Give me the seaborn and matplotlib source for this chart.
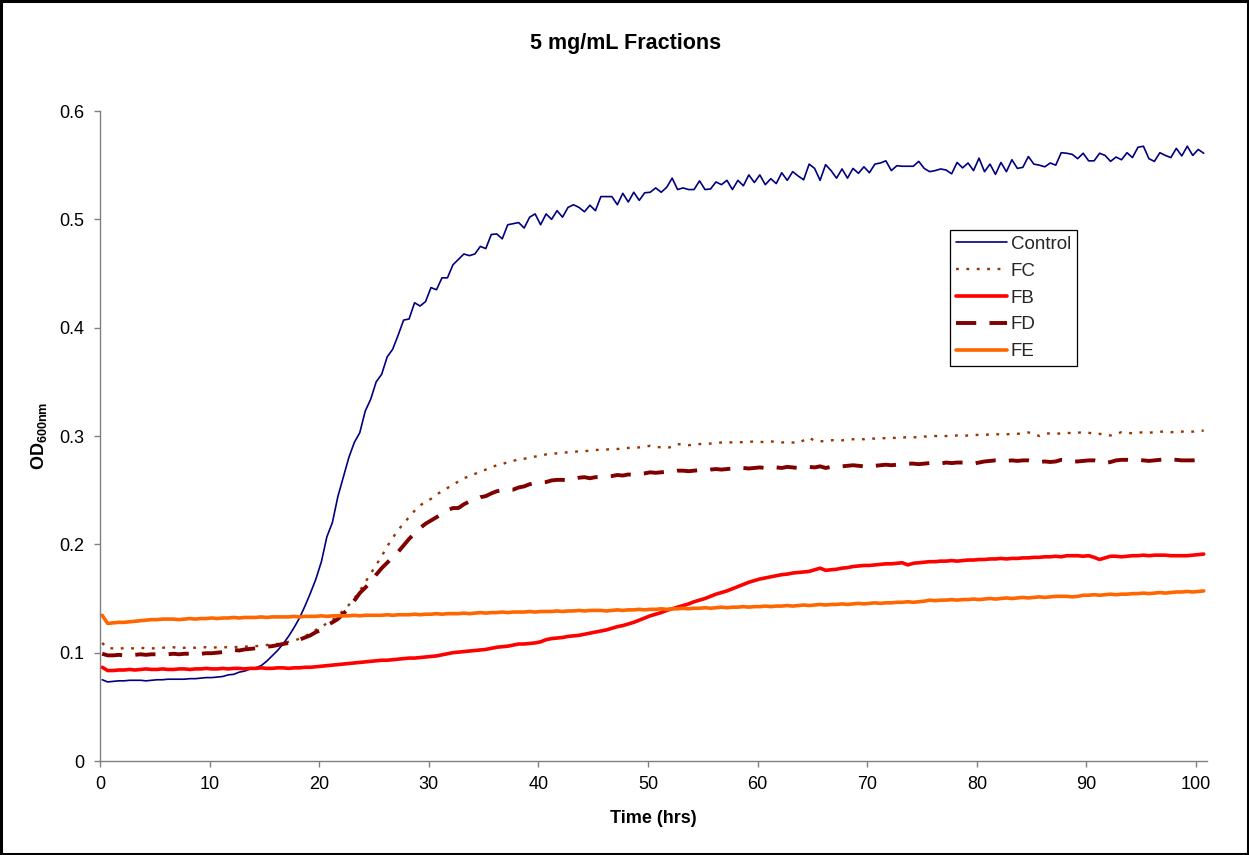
import numpy as np
import pandas as pd
import matplotlib
matplotlib.use("Agg")
import matplotlib.pyplot as plt
from matplotlib.patches import Rectangle
import seaborn as sns

# ---------------- data ----------------
TIME_START = 0.2
TIME_STEP = 0.5
N_POINTS = 202

CONTROL = [
    0.075, 0.073, 0.0735, 0.074, 0.074, 0.0745, 0.0745, 0.0745, 0.074, 0.0745,
    0.075, 0.075, 0.0755, 0.0755, 0.0755, 0.0755, 0.076, 0.076, 0.0765, 0.077,
    0.077, 0.0775, 0.078, 0.0795, 0.080, 0.082, 0.083, 0.085, 0.086, 0.088,
    0.092, 0.097, 0.102, 0.108, 0.115, 0.123, 0.132, 0.143, 0.155, 0.168,
    0.184, 0.207, 0.220, 0.244, 0.262, 0.280, 0.294, 0.303, 0.323, 0.334,
    0.350, 0.357, 0.373, 0.380, 0.393, 0.407, 0.408, 0.423, 0.420, 0.424,
    0.437, 0.435, 0.446, 0.446, 0.458, 0.463, 0.468, 0.4665, 0.468, 0.475,
    0.473, 0.486, 0.4865, 0.482, 0.495, 0.496, 0.497, 0.492, 0.502, 0.505,
    0.495, 0.505, 0.500, 0.508, 0.502, 0.511, 0.5135, 0.511, 0.507, 0.513,
    0.508, 0.521, 0.521, 0.521, 0.5135, 0.524, 0.516, 0.525, 0.5175, 0.5245,
    0.525, 0.529, 0.525, 0.5295, 0.538, 0.5275, 0.529, 0.5275, 0.5275, 0.5355,
    0.5275, 0.528, 0.5345, 0.532, 0.536, 0.5275, 0.536, 0.531, 0.541, 0.534,
    0.541, 0.532, 0.5375, 0.533, 0.543, 0.536, 0.544, 0.540, 0.5365, 0.551,
    0.547, 0.536, 0.5505, 0.545, 0.538, 0.5465, 0.538, 0.547, 0.5425, 0.5485,
    0.543, 0.551, 0.552, 0.554, 0.545, 0.5495, 0.549, 0.549, 0.549, 0.5535,
    0.547, 0.544, 0.545, 0.5465, 0.5455, 0.542, 0.5525, 0.5475, 0.552, 0.545,
    0.5565, 0.544, 0.551, 0.5415, 0.5525, 0.544, 0.555, 0.547, 0.548, 0.558,
    0.551, 0.550, 0.5485, 0.552, 0.550, 0.5615, 0.561, 0.560, 0.556, 0.561,
    0.554, 0.554, 0.561, 0.559, 0.5535, 0.5575, 0.555, 0.5615, 0.557, 0.5665,
    0.5675, 0.556, 0.5535, 0.5615, 0.559, 0.557, 0.5655, 0.5585, 0.5675, 0.559,
    0.5645, 0.561,
]

FC = [
    0.109, 0.104, 0.104, 0.104, 0.104, 0.104, 0.104, 0.1045, 0.104, 0.104,
    0.104, 0.1045, 0.105, 0.105, 0.104, 0.1045, 0.105, 0.1045, 0.105, 0.105,
    0.1045, 0.105, 0.105, 0.105, 0.105, 0.1055, 0.1055, 0.106, 0.106, 0.1065,
    0.107, 0.108, 0.108, 0.109, 0.110, 0.111, 0.113, 0.115, 0.118, 0.121,
    0.124, 0.127, 0.130, 0.134, 0.139, 0.144, 0.150, 0.157, 0.165, 0.173,
    0.181, 0.189, 0.198, 0.206, 0.213, 0.2195, 0.225, 0.231, 0.236, 0.239,
    0.242, 0.246, 0.249, 0.252, 0.255, 0.258, 0.261, 0.263, 0.265, 0.267,
    0.269, 0.271, 0.273, 0.274, 0.276, 0.277, 0.2785, 0.279, 0.280, 0.281,
    0.282, 0.283, 0.2835, 0.284, 0.2845, 0.285, 0.2855, 0.2857, 0.286, 0.2865,
    0.287, 0.2875, 0.2875, 0.288, 0.288, 0.2885, 0.289, 0.289, 0.2895, 0.290,
    0.291, 0.290, 0.2895, 0.289, 0.290, 0.2925, 0.292, 0.2915, 0.292, 0.2925,
    0.293, 0.293, 0.2935, 0.294, 0.2945, 0.294, 0.294, 0.2945, 0.2945, 0.295,
    0.2945, 0.2945, 0.295, 0.2945, 0.294, 0.2945, 0.294, 0.2935, 0.296, 0.2985,
    0.2955, 0.295, 0.2955, 0.296, 0.2965, 0.296, 0.2965, 0.297, 0.297, 0.297,
    0.298, 0.2975, 0.298, 0.298, 0.2985, 0.298, 0.2985, 0.299, 0.299, 0.2985,
    0.2995, 0.2995, 0.300, 0.2995, 0.300, 0.300, 0.3005, 0.300, 0.3005, 0.301,
    0.301, 0.301, 0.3015, 0.302, 0.301, 0.3015, 0.302, 0.302, 0.3025, 0.3033,
    0.302, 0.300, 0.302, 0.3025, 0.302, 0.3025, 0.303, 0.3025, 0.303, 0.3035,
    0.303, 0.302, 0.302, 0.301, 0.3005, 0.302, 0.3035, 0.303, 0.3025, 0.303,
    0.3035, 0.303, 0.3035, 0.304, 0.304, 0.3035, 0.304, 0.304, 0.3045, 0.304,
    0.3045, 0.305,
]

FB = [
    0.0865, 0.0835, 0.0835, 0.084, 0.084, 0.0845, 0.084, 0.0845, 0.085, 0.0845,
    0.0845, 0.085, 0.0845, 0.0845, 0.085, 0.085, 0.0845, 0.085, 0.085, 0.0855,
    0.085, 0.085, 0.0855, 0.085, 0.0855, 0.0855, 0.085, 0.0855, 0.0855, 0.086,
    0.0855, 0.0855, 0.086, 0.086, 0.0855, 0.086, 0.086, 0.0865, 0.0865, 0.087,
    0.0875, 0.088, 0.0885, 0.089, 0.0895, 0.090, 0.0905, 0.091, 0.0915, 0.092,
    0.0925, 0.093, 0.093, 0.0935, 0.094, 0.0945, 0.095, 0.095, 0.0955, 0.096,
    0.0965, 0.097, 0.098, 0.099, 0.100, 0.1005, 0.101, 0.1015, 0.102, 0.1025,
    0.103, 0.104, 0.105, 0.1055, 0.106, 0.107, 0.108, 0.108, 0.1085, 0.109,
    0.110, 0.112, 0.113, 0.1135, 0.114, 0.115, 0.1155, 0.116, 0.117, 0.118,
    0.119, 0.120, 0.121, 0.1225, 0.124, 0.125, 0.1265, 0.128, 0.130, 0.132,
    0.134, 0.1355, 0.137, 0.139, 0.1405, 0.142, 0.1435, 0.145, 0.147, 0.1485,
    0.150, 0.152, 0.154, 0.1555, 0.157, 0.159, 0.161, 0.163, 0.165, 0.1665,
    0.168, 0.169, 0.170, 0.171, 0.172, 0.1725, 0.1735, 0.174, 0.1745, 0.175,
    0.1765, 0.178, 0.176, 0.1765, 0.177, 0.178, 0.1785, 0.1795, 0.180, 0.1805,
    0.1805, 0.181, 0.1815, 0.182, 0.182, 0.1825, 0.183, 0.181, 0.1825, 0.183,
    0.1835, 0.184, 0.184, 0.1845, 0.1845, 0.185, 0.1845, 0.185, 0.1855, 0.1855,
    0.186, 0.186, 0.1865, 0.1865, 0.187, 0.1865, 0.187, 0.187, 0.1875, 0.1875,
    0.188, 0.188, 0.1885, 0.1885, 0.189, 0.1885, 0.1895, 0.1895, 0.1895, 0.189,
    0.1895, 0.188, 0.186, 0.1875, 0.189, 0.189, 0.1885, 0.189, 0.1895, 0.1895,
    0.190, 0.1895, 0.190, 0.190, 0.190, 0.1895, 0.1895, 0.1895, 0.1895, 0.190,
    0.1905, 0.191,
]

FD = [
    0.099, 0.0975, 0.0975, 0.098, 0.0975, 0.098, 0.098, 0.0985, 0.098, 0.0985,
    0.0985, 0.098, 0.0985, 0.099, 0.0985, 0.099, 0.099, 0.0995, 0.099, 0.0995,
    0.0995, 0.100, 0.1005, 0.101, 0.1025, 0.102, 0.103, 0.1035, 0.104, 0.105,
    0.1055, 0.106, 0.107, 0.108, 0.109, 0.1105, 0.112, 0.114, 0.116, 0.119,
    0.121, 0.125, 0.128, 0.131, 0.136, 0.141, 0.148, 0.155, 0.160, 0.165,
    0.172, 0.178, 0.183, 0.188, 0.193, 0.199, 0.205, 0.210, 0.215, 0.219,
    0.222, 0.225, 0.228, 0.2315, 0.2335, 0.2335, 0.237, 0.2395, 0.241, 0.2435,
    0.2445, 0.247, 0.249, 0.250, 0.2505, 0.2505, 0.2525, 0.2535, 0.2555, 0.2565,
    0.257, 0.2575, 0.259, 0.2595, 0.2595, 0.259, 0.2605, 0.2615, 0.262, 0.261,
    0.262, 0.262, 0.2625, 0.263, 0.264, 0.2635, 0.2645, 0.264, 0.265, 0.2655,
    0.2665, 0.266, 0.2665, 0.267, 0.267, 0.268, 0.268, 0.2675, 0.268, 0.2685,
    0.268, 0.269, 0.2695, 0.269, 0.2695, 0.270, 0.2695, 0.2705, 0.270, 0.2705,
    0.271, 0.2705, 0.2715, 0.271, 0.2705, 0.2715, 0.271, 0.2705, 0.271, 0.2715,
    0.271, 0.272, 0.2705, 0.2715, 0.2725, 0.272, 0.2725, 0.273, 0.2725, 0.272,
    0.273, 0.2725, 0.273, 0.2735, 0.273, 0.2735, 0.274, 0.2745, 0.2745, 0.274,
    0.2745, 0.275, 0.275, 0.2745, 0.2755, 0.275, 0.2755, 0.2755, 0.275, 0.2745,
    0.2755, 0.2765, 0.277, 0.2775, 0.2775, 0.277, 0.2775, 0.277, 0.2775, 0.2775,
    0.2765, 0.276, 0.2765, 0.276, 0.2765, 0.278, 0.2775, 0.2765, 0.2765, 0.277,
    0.2775, 0.2775, 0.2765, 0.275, 0.276, 0.2775, 0.278, 0.278, 0.2775, 0.278,
    0.2775, 0.277, 0.2775, 0.278, 0.2785, 0.2785, 0.278, 0.2775, 0.2775, 0.2775,
    0.278, 0.2795,
]

FE = [
    0.1345, 0.127, 0.1275, 0.128, 0.128, 0.1285, 0.129, 0.1295, 0.130, 0.1305,
    0.1305, 0.131, 0.131, 0.131, 0.1305, 0.131, 0.1315, 0.131, 0.1315, 0.1315,
    0.132, 0.1315, 0.132, 0.132, 0.1325, 0.132, 0.1325, 0.1325, 0.1325, 0.133,
    0.1325, 0.133, 0.133, 0.133, 0.133, 0.1335, 0.133, 0.1335, 0.1335, 0.1335,
    0.134, 0.1335, 0.134, 0.134, 0.134, 0.134, 0.1345, 0.134, 0.1345, 0.1345,
    0.1345, 0.1345, 0.135, 0.1345, 0.135, 0.135, 0.135, 0.1355, 0.135, 0.1355,
    0.1355, 0.136, 0.1355, 0.136, 0.136, 0.136, 0.1365, 0.136, 0.1365, 0.137,
    0.1365, 0.137, 0.137, 0.1375, 0.137, 0.1375, 0.1375, 0.1375, 0.138, 0.1375,
    0.138, 0.138, 0.138, 0.1385, 0.138, 0.1385, 0.1385, 0.139, 0.1385, 0.139,
    0.139, 0.139, 0.1385, 0.139, 0.1395, 0.139, 0.1395, 0.1395, 0.140, 0.1395,
    0.140, 0.140, 0.1405, 0.140, 0.1405, 0.1405, 0.141, 0.1405, 0.141, 0.141,
    0.1415, 0.141, 0.1415, 0.142, 0.1415, 0.142, 0.142, 0.1425, 0.142, 0.1425,
    0.1425, 0.143, 0.1425, 0.143, 0.143, 0.1435, 0.143, 0.1435, 0.144, 0.1435,
    0.144, 0.1445, 0.144, 0.1445, 0.1445, 0.145, 0.1445, 0.145, 0.1455, 0.145,
    0.1455, 0.146, 0.1455, 0.146, 0.146, 0.1465, 0.1465, 0.147, 0.1465, 0.147,
    0.1475, 0.1485, 0.148, 0.1485, 0.1485, 0.149, 0.1485, 0.149, 0.149, 0.1495,
    0.149, 0.1495, 0.150, 0.1495, 0.150, 0.1505, 0.150, 0.1505, 0.151, 0.1505,
    0.151, 0.1515, 0.151, 0.1515, 0.152, 0.152, 0.152, 0.1515, 0.152, 0.153,
    0.153, 0.1535, 0.153, 0.1535, 0.154, 0.1535, 0.154, 0.154, 0.1545, 0.1545,
    0.155, 0.1545, 0.155, 0.1555, 0.155, 0.1555, 0.156, 0.156, 0.1565, 0.156,
    0.1565, 0.157,
]

SERIES_NAMES = ["Control", "FC", "FB", "FD", "FE"]
X_TICKS = [0, 10, 20, 30, 40, 50, 60, 70, 80, 90, 100]
Y_TICKS = [0, 0.1, 0.2, 0.3, 0.4, 0.5, 0.6]
Y_TICK_LABELS = ["0", "0.1", "0.2", "0.3", "0.4", "0.5", "0.6"]
TITLE = "5 mg/mL Fractions"
X_LABEL = "Time (hrs)"
Y_LABEL = r"$\mathbf{OD}_{\mathbf{600nm}}$"

# ---------------- build frame ----------------
TIME = np.round(TIME_START + TIME_STEP * np.arange(N_POINTS), 2)
values = {"Control": CONTROL, "FC": FC, "FB": FB, "FD": FD, "FE": FE}
for k, v in values.items():
    assert len(v) == N_POINTS, (k, len(v))
df = pd.DataFrame({"Time": TIME, **values})

# ---------------- style ----------------
sns.set_theme(style="white")
plt.rcParams["font.family"] = ["Liberation Sans", "DejaVu Sans"]
plt.rcParams["mathtext.fontset"] = "custom"
plt.rcParams["mathtext.rm"] = "Liberation Sans"
plt.rcParams["mathtext.bf"] = "Liberation Sans:bold"
plt.rcParams["mathtext.it"] = "Liberation Sans:italic"

styles = {
    "Control": dict(color="#000080", linewidth=1.2, linestyle="-"),
    "FC": dict(color="#993300", linewidth=1.7, linestyle=(0, (1.2, 3.2))),
    "FB": dict(color="#FF0000", linewidth=2.6, linestyle="-"),
    "FD": dict(color="#800000", linewidth=2.8, linestyle=(0, (5.2, 3.4))),
    "FE": dict(color="#FF6600", linewidth=2.6, linestyle="-"),
}

fig = plt.figure(figsize=(12.49, 8.55), dpi=100)
fig.patch.set_facecolor("white")
ax = fig.add_axes([100 / 1249, 1 - 761 / 855, 1107 / 1249, 650 / 855])

for name in SERIES_NAMES:
    st = styles[name]
    sns.lineplot(data=df, x="Time", y=name, ax=ax, label=name,
                 color=st["color"], linewidth=st["linewidth"],
                 linestyle=st["linestyle"], errorbar=None)

ax.set_xlim(0, 101)
ax.set_ylim(0, 0.6)
ax.set_xticks(X_TICKS)
ax.set_xticklabels([str(t) for t in X_TICKS])
ax.set_yticks(Y_TICKS)
ax.set_yticklabels(Y_TICK_LABELS)
ax.tick_params(axis="both", which="major", direction="out", length=4,
               width=1.0, color="#808080", labelsize=13, labelcolor="black",
               pad=7, bottom=True, left=True)
for side in ["top", "right"]:
    ax.spines[side].set_visible(False)
for side in ["left", "bottom"]:
    ax.spines[side].set_color("#808080")
    ax.spines[side].set_linewidth(1.0)
ax.grid(False)
ax.set_facecolor("white")

ax.set_xlabel(X_LABEL, fontsize=13, fontweight="bold", color="black")
ax.xaxis.set_label_coords(0.5, -0.076)
ax.set_ylabel(Y_LABEL, fontsize=13, color="black")
ax.yaxis.set_label_coords(-0.046, 0.5)

fig.text(0.501, 1 - 44 / 855, TITLE, ha="center", va="center",
         fontsize=15.5, fontweight="bold", color="black")

leg = ax.legend(loc="upper left", bbox_to_anchor=((950 - 100) / 1107, (761 - 230) / 650),
                borderaxespad=0, fontsize=13.5, frameon=True, fancybox=False,
                edgecolor="black", framealpha=1, handlelength=2.75,
                handletextpad=0.2, labelspacing=0.52, borderpad=0.3)
leg.get_frame().set_linewidth(0.9)

fig.patches.append(Rectangle((0.001, 0.001), 0.998, 0.998, transform=fig.transFigure,
                             fill=False, edgecolor="black", linewidth=2.2, zorder=10))

fig.savefig("out.png", dpi=100, facecolor="white")
